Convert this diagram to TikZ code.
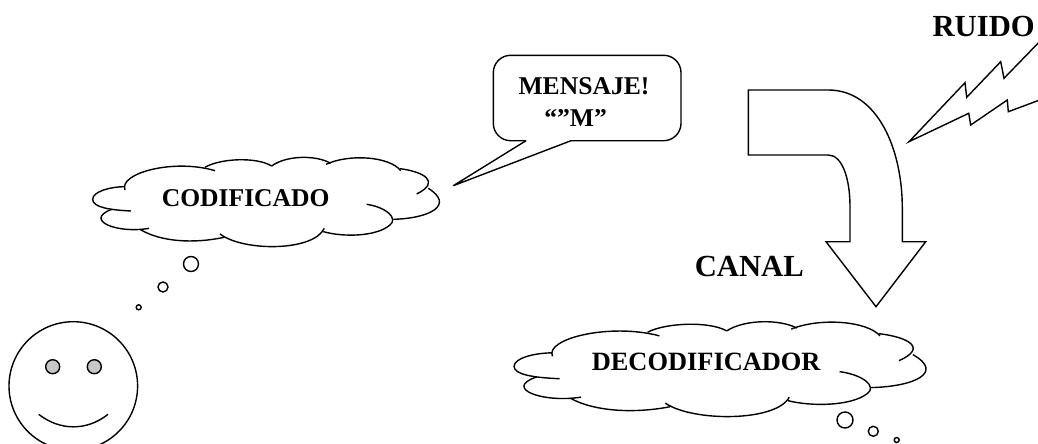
\documentclass[tikz,border=0pt]{standalone}
\usepackage{fontspec}
\setmainfont{Liberation Serif}
\usetikzlibrary{positioning}
\tikzstyle{outline} = [draw=black, line width=1.05pt]
\tikzstyle{labeltext} = [inner sep=0pt, anchor=base west, font=\bfseries\fontsize{19.2}{23}\selectfont]
\tikzstyle{biglabel} = [inner sep=0pt, anchor=base west, font=\bfseries\fontsize{23}{27}\selectfont]
\newcommand{\cloudshape}{
  \draw [outline] (153,243) .. controls (90,240) and (38,232) .. (38,208) .. controls (38,185) and (90,170) .. (135,170);
  \draw [outline] (135,180) .. controls (115,130) and (280,85) .. (405,122);
  \draw [outline] (375,112) .. controls (420,85) and (530,80) .. (575,108);
  \draw [outline] (575,108) .. controls (620,75) and (710,75) .. (752,100);
  \draw [outline] (738,103) .. controls (810,70) and (930,80) .. (962,122);
  \draw [outline] (960,116) .. controls (1030,125) and (1085,155) .. (1010,192);
  \draw [outline] (1045,175) .. controls (1125,225) and (1050,265) .. (940,268);
  \draw [outline] (860,223) .. controls (920,232) and (955,265) .. (930,285) .. controls (890,320) and (790,322) .. (730,305);
  \draw [outline] (733,295) .. controls (700,365) and (490,365) .. (420,312);
  \draw [outline] (432,322) .. controls (340,342) and (240,335) .. (180,298);
  \draw [outline] (207,295) .. controls (110,312) and (10,270) .. (95,238);
}
\begin{document}
\begin{tikzpicture}[x=0.75pt, y=-0.75pt]
\useasboundingbox (0,0) rectangle (1038,443);

% Clouds
\begin{scope}[shift={(80,130)}, xscale=0.3333, yscale=0.3333]
\cloudshape
\end{scope}
\begin{scope}[shift={(499,292.6)}, xscale=0.396, yscale=0.3544]
\cloudshape
\end{scope}
\node (codificado) [labeltext] at (161.5,206) {CODIFICADO};
\node (decodificador) [labeltext, font=\bfseries\fontsize{19.8}{23}\selectfont] at (591.5,370) {DECODIFICADOR};

% Bubbles
\draw [outline] (191,264) circle [radius=7.5];
\draw [outline] (163,287) circle [radius=5];
\draw [outline] (138.7,307.3) circle [radius=2.5];
\draw [outline] (845,420) circle [radius=8];
\draw [outline] (873.3,431.3) circle [radius=5];
\draw [outline] (896.7,440) circle [radius=2.5];

% Face
\draw [outline] (73.3,386) circle [radius=64.3];
\draw [outline, fill=black!22] (52.7,366.7) circle [radius=7];
\draw [outline, fill=black!22] (94.3,366.7) circle [radius=7];
\draw [outline] (38.7,414.3) .. controls (60,431) and (87,431) .. (108,414.3);

% Callout
\draw [outline, rounded corners=13] (526,140.7) -- (493.3,140.7) -- (493.3,55.3) -- (681,55.3) -- (681,140.7) -- (571,140.7);
\draw [outline] (526,140.7) -- (453.3,185.7) -- (571,140.7);
\node (mensaje) [labeltext] at (518.3,94.3) {MENSAJE!};
\node (letra) [labeltext] at (544,126.7) {“”M”};

% Channel arrow
\draw [outline] (828.3,90) -- (748.3,90) -- (748.3,155) -- (828.3,155)
  .. controls (842,155) and (850,178) .. (850,206.7) -- (850,241.7) -- (826,241.7)
  -- (876,306.7) -- (925.7,241.7) -- (902.3,241.7) -- (902.3,208)
  .. controls (902.3,150) and (878,90) .. (828.3,90);
\node (canal) [biglabel] at (694.5,276) {CANAL};

% Noise bolt
\draw [outline] (1045,36) -- (1004,78.3) -- (1000.7,61.7) -- (966.7,97.3) -- (965,82.7) -- (909,141.7)
  -- (968.7,113.3) -- (970.7,125) -- (1007.3,100) -- (1008.3,111.7) -- (1045,98);
\node (ruido) [biglabel] at (932.3,36) {RUIDO};

\end{tikzpicture}
\end{document}
